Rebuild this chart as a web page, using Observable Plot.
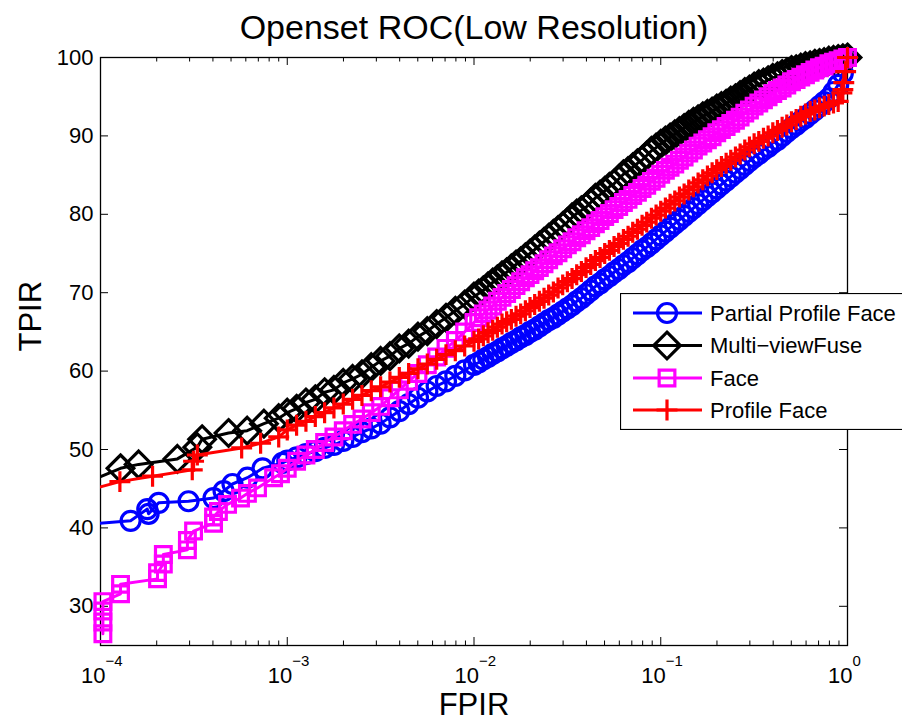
<!DOCTYPE html>
<html><head><meta charset="utf-8">
<script src="https://cdn.jsdelivr.net/npm/d3@7"></script>
<script src="https://cdn.jsdelivr.net/npm/@observablehq/plot@0.6"></script>
<style>
html,body{margin:0;padding:0;background:#fff;overflow:hidden;}
#wrap{position:relative;width:902px;height:721px;overflow:hidden;font-family:"Liberation Sans",Arial,sans-serif;}
#legend{position:absolute;left:620px;top:293px;}
</style>
</head><body>
<div id="wrap"><div id="chart"></div><svg id="legend" width="282" height="137"></svg></div>
<script>
// ---- Data ----
const seriesNames = ["Partial Profile Face", "Multi\u2212viewFuse", "Face", "Profile Face"];
const seriesColors = ["#0000ff", "#000000", "#ff00ff", "#ff0000"];

// shared FPIR grid for the dense part of the curves (1e-3 .. 1)
const fpirGrid = [
 1.000e-3,1.122e-3,1.259e-3,1.413e-3,1.585e-3,1.778e-3,1.995e-3,2.239e-3,2.512e-3,2.818e-3,
 3.162e-3,3.548e-3,3.981e-3,4.467e-3,5.012e-3,5.623e-3,6.310e-3,7.079e-3,7.943e-3,8.913e-3,
 1.000e-2,1.122e-2,1.259e-2,1.413e-2,1.585e-2,1.778e-2,1.995e-2,2.239e-2,2.512e-2,2.818e-2,
 3.162e-2,3.548e-2,3.981e-2,4.467e-2,5.012e-2,5.623e-2,6.310e-2,7.079e-2,7.943e-2,8.913e-2,
 0.1000,0.1122,0.1259,0.1413,0.1585,0.1778,0.1995,0.2239,0.2512,0.2818,
 0.3162,0.3548,0.3981,0.4467,0.5012,0.5623,0.6310,0.7079,0.7943,0.8913,1.000];
// extra FPIR thresholds where the curves are densest (1e-2 .. 1)
const fpirMid = [
 0.01059,0.01189,0.01334,0.01496,0.01679,0.01884,0.02113,0.02371,0.02661,0.02985,
 0.03350,0.03758,0.04217,0.04732,0.05309,0.05957,0.06683,0.07499,0.08414,0.09441,
 0.1059,0.1189,0.1334,0.1496,0.1679,0.1884,0.2113,0.2371,0.2661,0.2985,
 0.3350,0.3758,0.4217,0.4732,0.5309,0.5957,0.6683,0.7499,0.8414,0.9441];

// Partial Profile Face (blue)
const blueFpirLow = [8e-5,1.45e-4,1.81e-4,1.78e-4,2.05e-4,2.96e-4,4.03e-4,4.56e-4,5.09e-4,6.12e-4,7.38e-4,9.44e-4];
const blueTpirLow = [40.4,40.9,41.8,42.4,43.2,43.4,43.8,44.7,45.6,46.4,47.6,48.3];
const blueTpirGrid = [
 48.6,49.0,49.4,49.8,50.2,50.6,51.1,51.6,52.2,52.7,
 53.3,54.1,54.9,55.8,56.6,57.4,58.1,58.7,59.4,60.1,
 60.8,61.5,62.2,62.9,63.6,64.3,65.0,65.7,66.5,67.2,
 68.0,68.9,69.8,70.8,71.7,72.6,73.5,74.4,75.4,76.3,
 77.3,78.3,79.3,80.3,81.3,82.3,83.3,84.3,85.3,86.3,
 87.3,88.2,89.1,90.0,91.0,91.9,92.8,93.8,94.8,96.5,100];
const blueTpirMid = [
 61.1,61.8,62.5,63.2,63.9,64.6,65.3,66.1,66.8,67.6,
 68.4,69.3,70.3,71.2,72.1,73.0,73.9,74.9,75.8,76.8,
 77.8,78.8,79.8,80.8,81.8,82.8,83.8,84.8,85.8,86.8,
 87.7,88.6,89.5,90.5,91.4,92.3,93.3,94.3,95.6,98.0];

// Multi-viewFuse (black)
const blackFpirLow = [8e-5,1.28e-4,1.6e-4,2.58e-4,3.3e-4,3.5e-4,4.85e-4,6.1e-4,7.5e-4,9.0e-4];
const blackTpirLow = [45.6,47.6,48.1,48.8,50.3,51.3,52.1,52.4,53.3,54.0];
const blackTpirGrid = [
 54.7,55.2,56.0,56.4,57.3,57.6,58.5,59.0,59.6,60.5,
 61.3,61.9,62.9,63.5,64.4,65.1,66.0,66.8,67.7,68.5,
 69.5,70.3,71.3,72.2,73.1,74.0,75.0,76.0,77.0,78.0,
 79.0,80.1,80.9,82.1,83.0,83.9,85.1,86.0,86.9,88.1,
 89.0,89.8,90.6,91.4,92.1,92.8,93.5,94.1,94.8,95.6,
 96.3,96.8,97.4,97.9,98.4,98.7,99.0,99.3,99.6,99.8,100.0];
const blackTpirMid = [
 69.9,70.8,71.7,72.6,73.6,74.5,75.5,76.5,77.5,78.5,
 79.6,80.5,81.5,82.5,83.5,84.5,85.5,86.5,87.5,88.5,
 89.4,90.2,91.0,91.8,92.5,93.1,93.8,94.5,95.2,95.9,
 96.6,97.1,97.6,98.1,98.5,98.9,99.2,99.4,99.7,99.9];

// Face (magenta)
const pinkFpirLow = [1.03e-4,1.03e-4,1.03e-4,1.03e-4,1.28e-4,1.28e-4,2.02e-4,2.02e-4,2.17e-4,2.17e-4,2.92e-4,2.92e-4,3.15e-4,4.03e-4,4.03e-4,4.28e-4,4.79e-4,5.62e-4,6.12e-4,6.93e-4,8.45e-4,9.2e-4];
const pinkTpirLow = [26.5,28.0,29.4,30.6,31.6,32.8,33.5,34.3,35.4,36.6,37.2,38.4,39.6,40.6,41.4,42.1,43.0,43.8,44.4,45.1,46.4,46.9];
const pinkTpirGrid = [
 47.6,48.5,49.3,50.0,50.9,51.6,52.4,53.2,53.9,54.7,
 55.5,56.6,57.6,58.7,59.7,60.8,61.8,62.9,63.9,65.0,
 66.2,67.3,68.3,69.4,70.4,71.4,72.3,73.2,74.2,75.1,
 76.1,77.0,77.9,78.8,79.7,80.6,81.5,82.4,83.3,84.2,
 85.1,86.0,86.9,87.8,88.7,89.5,90.4,91.2,92.0,92.9,
 93.8,94.6,95.4,96.1,96.9,97.5,98.1,98.7,99.2,99.6,100];
const pinkTpirMid = [
 66.8,67.8,68.9,69.9,70.9,71.9,72.8,73.7,74.7,75.6,
 76.5,77.4,78.3,79.2,80.1,81.0,81.9,82.8,83.7,84.6,
 85.6,86.4,87.3,88.2,89.1,89.9,90.8,91.6,92.4,93.3,
 94.2,95.0,95.8,96.5,97.2,97.8,98.4,98.9,99.4,99.8];

// Profile Face (red)
const redFpirLow = [8e-5,1.27e-4,1.9e-4,3.1e-4,3.15e-4,3.3e-4,5.7e-4,7.2e-4,9.0e-4];
const redTpirLow = [44.6,45.9,46.6,47.4,48.5,49.3,50.2,50.8,51.6];
const redTpirGrid = [
 52.5,53.1,53.6,54.2,54.7,55.3,55.8,56.4,56.9,57.5,
 58.0,58.6,59.2,59.7,60.3,60.9,61.5,62.1,62.6,63.2,
 63.8,64.5,65.2,66.0,66.6,67.3,68.1,68.9,69.7,70.6,
 71.4,72.3,73.2,74.1,75.0,75.9,76.8,77.7,78.6,79.5,
 80.4,81.3,82.2,83.1,84.0,84.9,85.7,86.5,87.3,88.2,
 89.0,89.7,90.4,91.1,91.8,92.5,93.1,93.6,94.0,94.4,100];
const redTpirMid = [
 64.1,64.9,65.6,66.3,67.0,67.7,68.5,69.3,70.1,71.0,
 71.8,72.7,73.6,74.5,75.4,76.3,77.2,78.1,79.0,79.9,
 80.8,81.7,82.6,83.5,84.4,85.3,86.1,86.9,87.7,88.6,
 89.3,90.0,90.7,91.4,92.1,92.8,93.3,93.8,94.2,95.9];
const redFpirTail = [0.933,0.955,0.977];
const redTpirTail = [95.5,96.8,98.2];

// Axis ticks
const xMajor = [1e-4,1e-3,1e-2,1e-1,1];
const xExponents = ["\u22124","\u22123","\u22122","\u22121","0"];
const xMinor = [2e-4,3e-4,4e-4,5e-4,6e-4,7e-4,8e-4,9e-4,
 2e-3,3e-3,4e-3,5e-3,6e-3,7e-3,8e-3,9e-3,
 2e-2,3e-2,4e-2,5e-2,6e-2,7e-2,8e-2,9e-2,
 0.2,0.3,0.4,0.5,0.6,0.7,0.8,0.9];
const yTicks = [30,40,50,60,70,80,90,100];

// ---- Build tables ----
function build(fLow, tLow, tGrid, tMid, fTail = [], tTail = []) {
  const rows = [];
  fLow.forEach((f, i) => rows.push({fpir: f, tpir: tLow[i]}));
  fpirGrid.forEach((f, i) => rows.push({fpir: f, tpir: tGrid[i]}));
  fpirMid.forEach((f, i) => rows.push({fpir: f, tpir: tMid[i]}));
  fTail.forEach((f, i) => rows.push({fpir: f, tpir: tTail[i]}));
  return rows.map((d, i) => ({...d, i})).sort((a, b) => a.fpir - b.fpir || a.i - b.i);
}
const tables = [
  build(blueFpirLow, blueTpirLow, blueTpirGrid, blueTpirMid),
  build(blackFpirLow, blackTpirLow, blackTpirGrid, blackTpirMid),
  build(pinkFpirLow, pinkTpirLow, pinkTpirGrid, pinkTpirMid),
  build(redFpirLow, redTpirLow, redTpirGrid, redTpirMid, redFpirTail, redTpirTail)
];
const symbols = ["circle","diamond2","square2","plus"];
const radii = [9.5, 12, 10, 6.8];

const W=902, H=721, mL=100, mR=55, mT=57, mB=76;
const fw = W-mL-mR, fh = H-mT-mB;

const seriesMarks = [];
tables.forEach((rows, k) => {
  seriesMarks.push(Plot.line(rows, {x: "fpir", y: "tpir", stroke: seriesColors[k], strokeWidth: 3, clip: true}));
  seriesMarks.push(Plot.dot(rows.filter(d => d.fpir >= 1e-4), {x: "fpir", y: "tpir", symbol: symbols[k], r: radii[k], stroke: seriesColors[k], strokeWidth: 3.2, fill: "none"}));
});

const chart = Plot.plot({
  width: W, height: H, marginLeft: mL, marginRight: mR, marginTop: mT, marginBottom: mB,
  style: {fontFamily: "'Liberation Sans', Arial, sans-serif", background: "white", overflow: "visible", color: "black"},
  x: {type: "log", domain: [1e-4, 1], axis: null},
  y: {domain: [25, 100], axis: null},
  marks: [
    Plot.frame({stroke: "black", strokeWidth: 1.3}),
    Plot.tickX(xMajor, {x: d => d, insetTop: fh - 8, stroke: "black", strokeWidth: 1}),
    Plot.tickX(xMajor, {x: d => d, insetBottom: fh - 8, stroke: "black", strokeWidth: 1}),
    Plot.tickX(xMinor, {x: d => d, insetTop: fh - 4.5, stroke: "black", strokeWidth: 1}),
    Plot.tickX(xMinor, {x: d => d, insetBottom: fh - 4.5, stroke: "black", strokeWidth: 1}),
    Plot.tickY(yTicks, {y: d => d, insetRight: fw - 8, stroke: "black", strokeWidth: 1}),
    Plot.tickY(yTicks, {y: d => d, insetLeft: fw - 8, stroke: "black", strokeWidth: 1}),
    Plot.axisY(yTicks, {tickSize: 0, tickPadding: 7, fontSize: 22, label: null, tickFormat: d => String(d)}),
    Plot.text(xMajor, {x: d => d, text: () => "10", frameAnchor: "bottom", textAnchor: "end", lineAnchor: "bottom", dx: 5, dy: 37, fontSize: 22}),
    Plot.text(xMajor, {x: d => d, text: (d, i) => xExponents[i], frameAnchor: "bottom", textAnchor: "start", lineAnchor: "bottom", dx: 5, dy: 20, fontSize: 15}),
    Plot.text(["Openset ROC(Low Resolution)"], {text: d => d, frameAnchor: "top", lineAnchor: "bottom", dy: -19, fontSize: 34}),
    Plot.text(["FPIR"], {text: d => d, frameAnchor: "bottom", lineAnchor: "bottom", dy: 69, fontSize: 31}),
    Plot.text(["TPIR"], {text: d => d, frameAnchor: "left", lineAnchor: "bottom", rotate: -90, dx: -60, fontSize: 31}),
    ...seriesMarks
  ]
});
document.getElementById("chart").appendChild(chart);

// ---- Legend ----
const leg = d3.select("#legend");
leg.append("rect").attr("x", 0.5).attr("y", 0.5).attr("width", 320).attr("height", 136)
  .attr("fill", "white").attr("stroke", "black").attr("stroke-width", 1.2);
const rowY = [20, 52.5, 85, 117];
const symMap = {circle: d3.symbolCircle, diamond2: d3.symbolDiamond2, square2: d3.symbolSquare2, plus: d3.symbolPlus};
seriesNames.forEach((name, k) => {
  const g = leg.append("g").attr("transform", `translate(0,${rowY[k]})`);
  g.append("line").attr("x1", 13).attr("x2", 82).attr("y1", 0).attr("y2", 0)
    .attr("stroke", seriesColors[k]).attr("stroke-width", 3);
  g.append("path").attr("transform", "translate(47,0)")
    .attr("d", d3.symbol(symMap[symbols[k]], Math.PI * radii[k] * radii[k])())
    .attr("fill", "none").attr("stroke", seriesColors[k]).attr("stroke-width", 3.2);
  g.append("text").attr("x", 90).attr("y", 0).attr("dy", "0.35em")
    .attr("font-size", 22).attr("font-family", "'Liberation Sans', Arial, sans-serif").text(name);
});
</script>
</body></html>
